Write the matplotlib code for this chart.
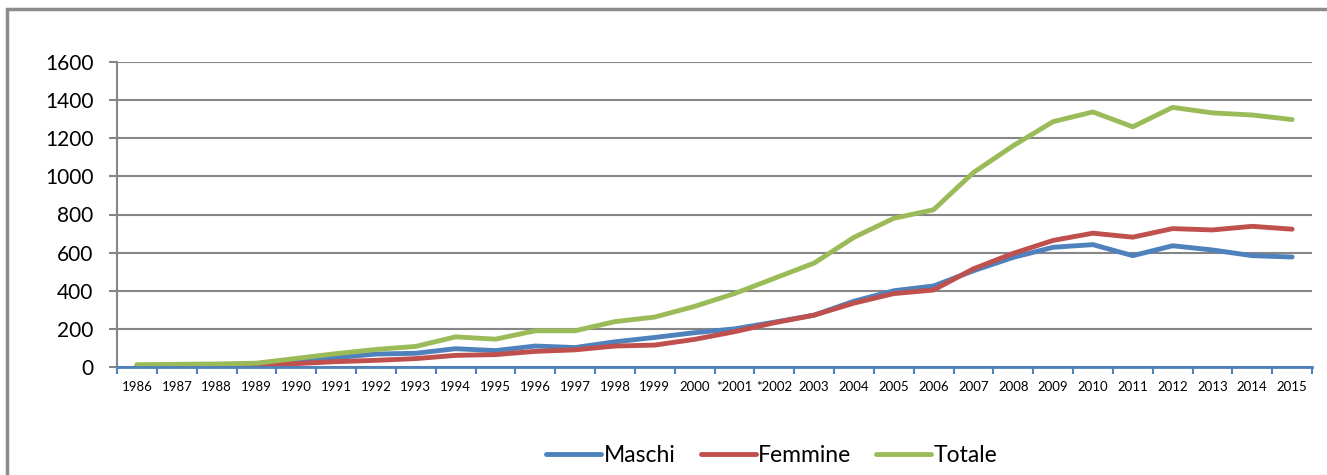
import numpy as np
import matplotlib.pyplot as plt
from matplotlib.patches import Rectangle

# dati
anni = ["1986", "1987", "1988", "1989", "1990", "1991", "1992", "1993", "1994", "1995",
        "1996", "1997", "1998", "1999", "2000", "*2001", "*2002", "2003", "2004", "2005",
        "2006", "2007", "2008", "2009", "2010", "2011", "2012", "2013", "2014", "2015"]
maschi = [5, 5, 6, 4, 26, 49, 68, 72, 96, 86,
          110, 102, 132, 155, 180, 200, 235, 272, 345, 400,
          425, 505, 575, 628, 642, 584, 636, 614, 584, 577]
femmine = [5, 6, 7, 8, 18, 28, 35, 44, 61, 65,
           82, 90, 110, 115, 145, 185, 232, 272, 335, 385,
           404, 515, 596, 664, 702, 681, 726, 719, 738, 723]
totale = [12, 14, 16, 20, 45, 70, 92, 108, 158, 146,
          190, 190, 238, 262, 318, 385, 465, 545, 680, 780,
          825, 1020, 1161, 1287, 1338, 1260, 1362, 1333, 1322, 1298]

plt.rcParams['font.family'] = ['Lato', 'DejaVu Sans']

fig = plt.figure(figsize=(13.27, 4.75), dpi=100)
ax = fig.add_axes([117 / 1327, 1 - 367 / 475, (1312 - 117) / 1327, (367 - 62) / 475])

# cornice esterna (solo bordo superiore e sinistro visibili)
fig.patches.append(Rectangle((7 / 1327, -0.1), 1.2, 1 - 9 / 475 + 0.1, transform=fig.transFigure,
                             fill=False, edgecolor='#8c8c8c', linewidth=2.5))

x = np.arange(len(anni))
ax.plot(x, maschi, color='#4F81BD', linewidth=3.5, solid_capstyle='round', label='Maschi')
ax.plot(x, femmine, color='#C0504D', linewidth=3.5, solid_capstyle='round', label='Femmine')
ax.plot(x, totale, color='#9BBB59', linewidth=3.5, solid_capstyle='round', label='Totale')

ax.set_xlim(-0.5, len(anni) - 0.5)
ax.set_ylim(0, 1600)
ax.set_yticks(np.arange(0, 1601, 200))
ax.grid(axis='y', color='#868686', linewidth=1.5)
ax.set_axisbelow(True)

ax.set_xticks(x)
ax.set_xticklabels(anni, fontsize=9.5)
ax.set_xticks(np.arange(-0.5, len(anni)), minor=True)
ax.tick_params(axis='x', which='major', length=0, pad=10)
ax.tick_params(axis='x', which='minor', length=5, width=1.5, color='#4F81BD')
ax.tick_params(axis='y', length=6, width=1.5, color='#868686', labelsize=15, pad=11)

for s in ['top', 'right']:
    ax.spines[s].set_visible(False)
ax.spines['left'].set_color('#868686')
ax.spines['left'].set_linewidth(1.5)
ax.spines['bottom'].set_color('#4F81BD')
ax.spines['bottom'].set_linewidth(2)

ax.legend(loc='center', bbox_to_anchor=(0.548, -0.289), ncol=3, frameon=False,
          fontsize=16.5, handlelength=2.4, handletextpad=0.1, columnspacing=1.1)

fig.savefig('out.png', dpi=100)
